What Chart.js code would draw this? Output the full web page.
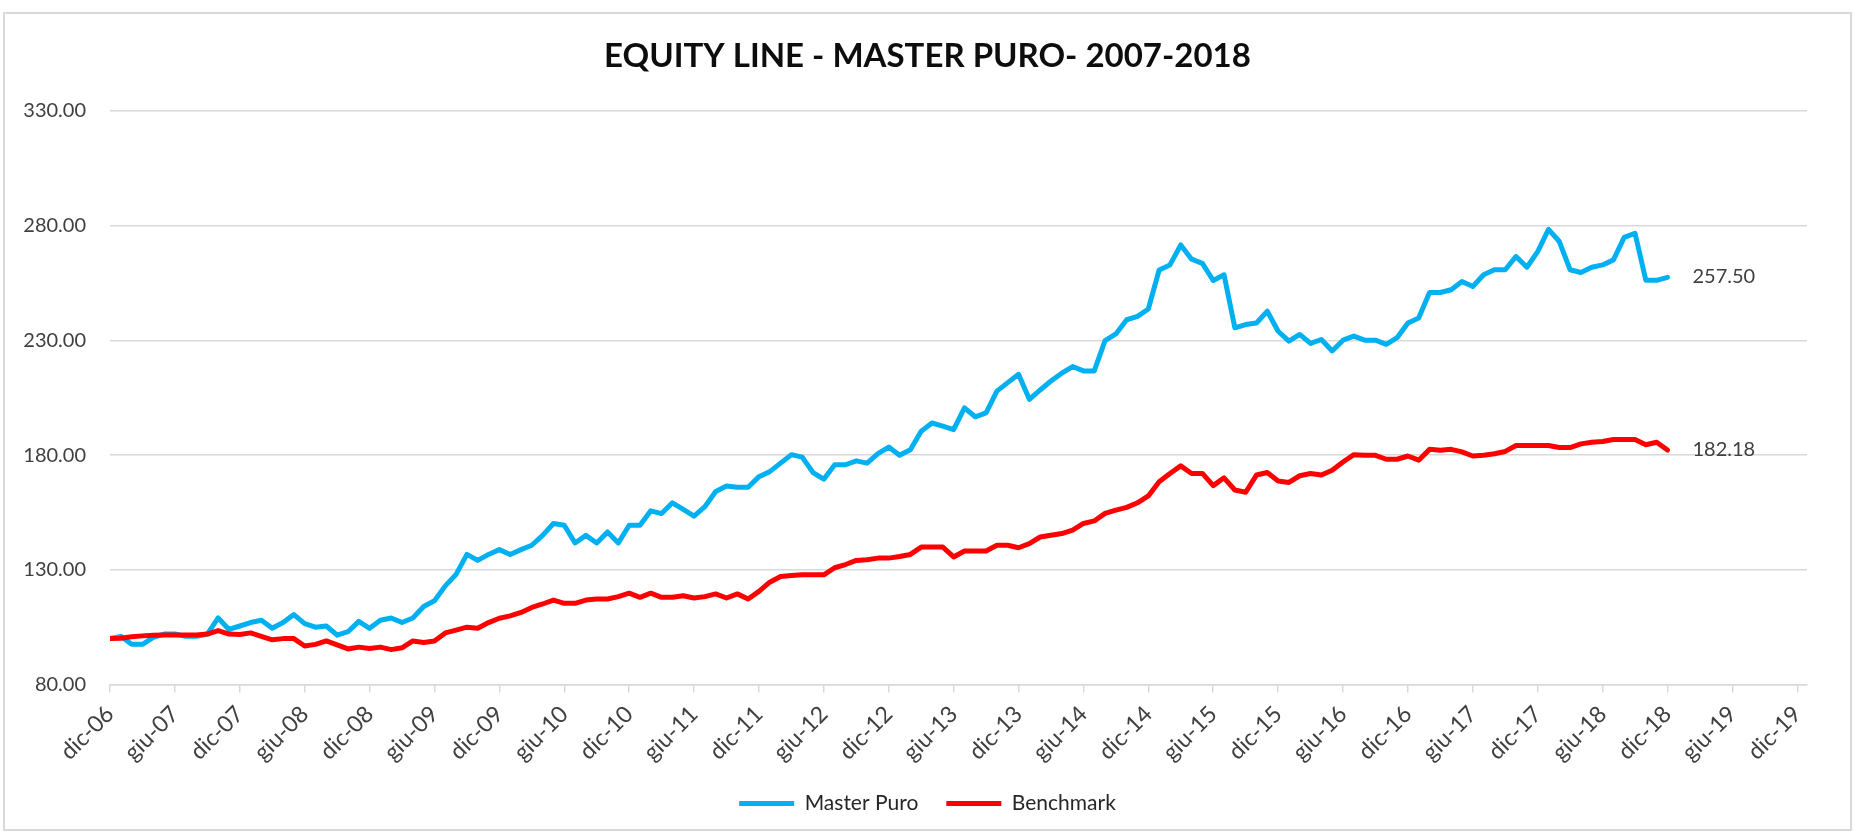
<!DOCTYPE html>
<html>
<head>
<meta charset="utf-8">
<title>Equity Line - Master Puro 2007-2018</title>
<script src="https://cdn.jsdelivr.net/npm/chart.js@4.4.1/dist/chart.umd.min.js"></script>
<style>
    html, body { margin: 0; padding: 0; background: #ffffff; }
    #wrap { position: relative; width: 1855px; height: 833px; }
    #equityChart { position: absolute; left: 0; top: 0; }
    #frame { position: absolute; left: 3px; top: 12px; width: 1845px; height: 815px; border: 2px solid #d9d9d9; pointer-events: none; }
</style>
</head>
<body>
<div id="wrap">
    <canvas id="equityChart" width="1855" height="833"></canvas>
    <div id="frame"></div>
</div>
<script>
// x axis: one step per month starting at dic-06, tick every 6 months
const xTickLabels = [
    "dic-06", "giu-07", "dic-07", "giu-08", "dic-08", "giu-09", "dic-09",
    "giu-10", "dic-10", "giu-11", "dic-11", "giu-12", "dic-12", "giu-13",
    "dic-13", "giu-14", "dic-14", "giu-15", "dic-15", "giu-16", "dic-16",
    "giu-17", "dic-17", "giu-18", "dic-18", "giu-19", "dic-19"
];

// monthly equity, dic-06 .. dic-18
const masterPuro = [
    100, 101, 97.5, 97.5, 100.5, 102, 102, 101, 101, 102,
    109, 104, 105.5, 107, 108, 104.5, 107, 110.5, 106.5, 105,
    105.5, 101.5, 103, 107.5, 104.5, 108, 109, 107, 109, 114,
    116.5, 123, 128, 136.7, 134.1, 136.7, 138.8, 136.7, 138.8, 140.7,
    145, 150.2, 149.4, 141.7, 145, 141.7, 146.5, 141.7, 149.4, 149.4,
    155.7, 154.5, 159.2, 156.3, 153.4, 157.5, 164.1, 166.5, 166, 166,
    170.6, 172.8, 176.5, 180.2, 179.1, 172.4, 169.5, 175.8, 175.8, 177.5,
    176.5, 180.6, 183.5, 179.9, 182.3, 190.4, 194, 192.6, 191.1, 200.6,
    196.7, 198.4, 207.9, 211.6, 215.2, 204.3, 208.4, 212.3, 215.7, 218.6,
    216.7, 216.7, 229.9, 232.8, 239, 240.5, 243.7, 260.7, 262.9, 271.6,
    265.4, 263.6, 256.1, 258.6, 235.5, 236.9, 237.6, 242.7, 234, 229.7,
    232.6, 228.7, 230.4, 225.4, 230.1, 231.9, 230.1, 230.1, 228.3, 231.2,
    237.6, 239.8, 250.9, 250.9, 252.1, 255.7, 253.5, 258.6, 260.8, 260.8,
    266.6, 261.9, 268.7, 278.4, 273.1, 260.8, 259.6, 261.9, 262.9, 265.1,
    274.9, 276.7, 256.2, 256.2, 257.5
];

const benchmark = [
    100, 100.2, 100.8, 101.2, 101.5, 101.6, 101.6, 101.6, 101.6, 102,
    103.5, 102, 101.8, 102.5, 101, 99.5, 100, 100, 96.8, 97.5,
    99, 97.3, 95.5, 96.3, 95.7, 96.3, 95.2, 96, 99, 98.3,
    99, 102.5, 103.7, 105, 104.5, 107, 108.9, 109.9, 111.4, 113.6,
    115.1, 116.8, 115.4, 115.4, 116.8, 117.3, 117.3, 118.3, 119.8, 118,
    119.8, 118, 118, 118.7, 117.7, 118.3, 119.5, 117.7, 119.5, 117.3,
    120.6, 124.6, 127.1, 127.5, 127.8, 127.8, 127.8, 130.9, 132.3, 134.1,
    134.4, 135.1, 135.1, 135.8, 136.7, 139.9, 139.9, 139.9, 135.6, 138.2,
    138.2, 138.2, 140.7, 140.7, 139.6, 141.4, 144.3, 145.1, 145.8, 147.3,
    150.2, 151.3, 154.6, 156, 157.2, 159.2, 162.2, 168.4, 172, 175.3,
    172, 172, 166.7, 170.1, 164.8, 163.8, 171.3, 172.4, 168.7, 168.1,
    171, 172, 171.3, 173.4, 177, 180.2, 179.9, 179.9, 178.2, 178.2,
    179.6, 177.8, 182.5, 182.1, 182.5, 181.4, 179.6, 179.9, 180.6, 181.6,
    184.2, 184.2, 184.2, 184.2, 183.3, 183.3, 184.9, 185.6, 185.9, 186.8,
    186.8, 186.8, 184.5, 185.6, 182.18
];

const FONT = "Lato";
const TEXT_GREY = "#404040";
const GRID_GREY = "#d9d9d9";

// value label next to the last point of each line
const endLabels = {
    id: "endLabels",
    afterDatasetsDraw(chart) {
        const ctx = chart.ctx;
        ctx.save();
        ctx.font = `20px ${FONT}`;
        ctx.fillStyle = TEXT_GREY;
        ctx.textAlign = "left";
        ctx.textBaseline = "middle";
        chart.data.datasets.forEach((ds, i) => {
            const meta = chart.getDatasetMeta(i);
            const last = meta.data[meta.data.length - 1];
            const v = ds.data[ds.data.length - 1].y;
            ctx.fillText(v.toFixed(2), last.x + 25, last.y - 1);
        });
        ctx.restore();
    }
};

const ctx = document.getElementById("equityChart").getContext("2d");

new Chart(ctx, {
    type: "line",
    data: {
        datasets: [
            {
                label: "Master Puro",
                data: masterPuro.map((v, i) => ({ x: i, y: v })),
                borderColor: "#00b0f0",
                backgroundColor: "#00b0f0",
                borderWidth: 5,
                pointRadius: 0,
                tension: 0,
                borderJoinStyle: "round",
                borderCapStyle: "round",
                order: 1
            },
            {
                label: "Benchmark",
                data: benchmark.map((v, i) => ({ x: i, y: v })),
                borderColor: "#ff0000",
                backgroundColor: "#ff0000",
                borderWidth: 5,
                pointRadius: 0,
                tension: 0,
                borderJoinStyle: "round",
                borderCapStyle: "round",
                order: 0
            }
        ]
    },
    options: {
        responsive: false,
        animation: false,
        devicePixelRatio: 1,
        layout: { padding: { top: 0, right: 0, bottom: 9, left: 0 } },
        plugins: {
            title: {
                display: true,
                text: "EQUITY LINE - MASTER PURO- 2007-2018",
                color: "#0d0d0d",
                font: { family: FONT, size: 33, weight: "bold" },
                padding: { top: 36.2, bottom: 35.2 }
            },
            legend: {
                position: "bottom",
                labels: {
                    usePointStyle: true,
                    pointStyle: "line",
                    pointStyleWidth: 55,
                    color: "#262626",
                    font: { family: FONT, size: 21 },
                    padding: 28,
                    sort: (a, b) => a.datasetIndex - b.datasetIndex
                }
            },
            tooltip: { enabled: false }
        },
        scales: {
            x: {
                type: "linear",
                min: 0,
                max: 156.9,
                afterFit: (scale) => { scale.height = 80.5; },
                grid: { drawOnChartArea: false, drawTicks: true, tickLength: 8, color: GRID_GREY, lineWidth: 1.5 },
                border: { display: true, color: GRID_GREY, width: 1.5 },
                ticks: {
                    stepSize: 6,
                    includeBounds: false,
                    autoSkip: false,
                    minRotation: 45,
                    maxRotation: 45,
                    padding: 8,
                    color: TEXT_GREY,
                    font: { family: FONT, size: 23 },
                    callback: (v) => xTickLabels[Math.round(v / 6)]
                }
            },
            y: {
                min: 80,
                max: 330,
                afterFit: (scale) => { scale.width = 110; },
                grid: { color: GRID_GREY, lineWidth: 1.5, drawTicks: false },
                border: { display: false },
                ticks: {
                    stepSize: 50,
                    padding: 24,
                    color: TEXT_GREY,
                    font: { family: FONT, size: 20 },
                    callback: (v) => v.toFixed(2)
                }
            },
            // empty right-hand column, keeps the plot right edge where the reference has it
            // while title and legend stay centred on the whole canvas
            spacer: {
                type: "linear",
                position: "right",
                afterFit: (scale) => { scale.width = 48; },
                grid: { display: false },
                border: { display: false },
                ticks: { display: false }
            }
        }
    },
    plugins: [endLabels]
});
</script>
</body>
</html>
